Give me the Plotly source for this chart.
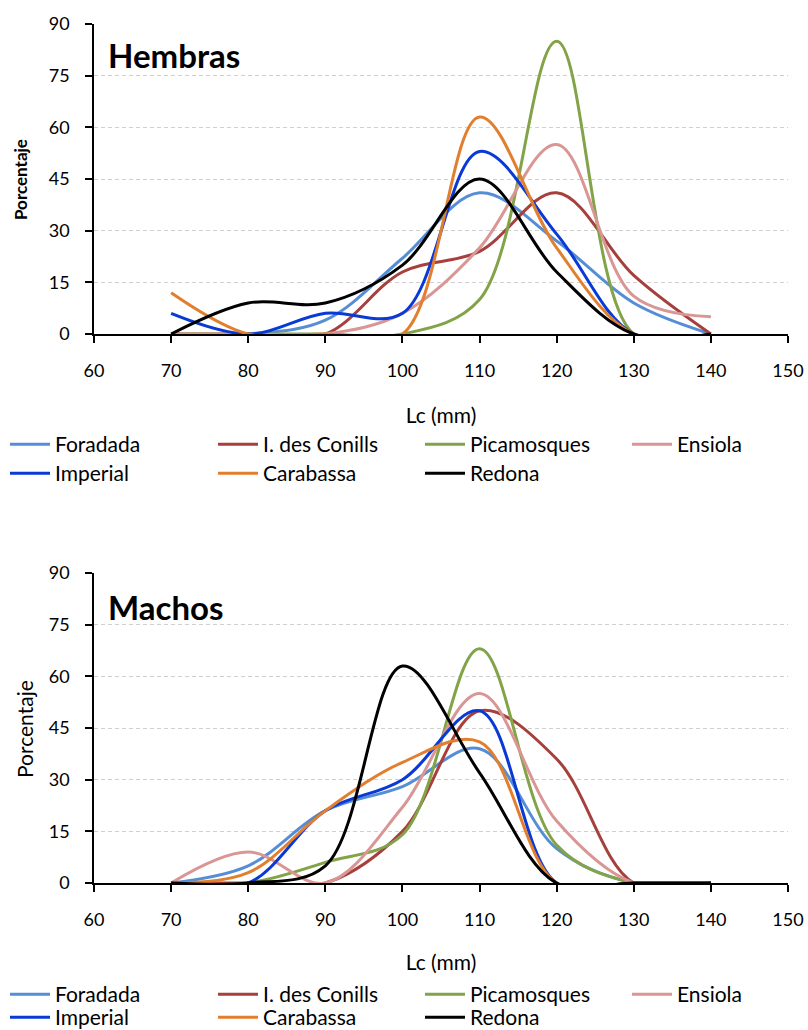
import plotly.graph_objects as go

# Carapace length classes (mm)
lc = [70, 80, 90, 100, 110, 120, 130, 140]

series_names = ["Foradada", "I. des Conills", "Picamosques", "Ensiola",
                "Imperial", "Carabassa", "Redona"]
series_colors = ["#558ED5", "#A5403D", "#82A348", "#D99694",
                 "#0A3AD6", "#E17F2F", "#000000"]

# Percentage per size class - females
hembras_foradada = [0, 0, 4, 22, 41, 27, 9, 0]
hembras_conills = [0, 0, 0, 18, 24, 41, 17, 0]
hembras_picamosques = [0, 0, 0, 0, 10, 85, 0, 0]
hembras_ensiola = [0, 0, 0, 6, 25, 55, 11, 5]
hembras_imperial = [6, 0, 6, 6, 53, 29, 0, 0]
hembras_carabassa = [12, 0, 0, 0, 63, 25, 0, 0]
hembras_redona = [0, 9, 9, 20, 45, 18, 0, 0]

# Percentage per size class - males
machos_foradada = [0, 5, 21, 28, 39, 10, 0, 0]
machos_conills = [0, 0, 0, 15, 50, 36, 0, 0]
machos_picamosques = [0, 0, 6, 14, 68, 11, 0, 0]
machos_ensiola = [0, 9, 0, 22, 55, 18, 0, 0]
machos_imperial = [0, 0, 21, 30, 50, 0, 0, 0]
machos_carabassa = [0, 3, 21, 35, 41, 0, 0, 0]
machos_redona = [0, 0, 5, 63, 32, 0, 0, 0]

hembras = [hembras_foradada, hembras_conills, hembras_picamosques, hembras_ensiola,
           hembras_imperial, hembras_carabassa, hembras_redona]
machos = [machos_foradada, machos_conills, machos_picamosques, machos_ensiola,
          machos_imperial, machos_carabassa, machos_redona]

x_ticks = [60, 70, 80, 90, 100, 110, 120, 130, 140, 150]
y_ticks = [0, 15, 30, 45, 60, 75, 90]

FONT = "Lato, 'Open Sans', sans-serif"
W, H = 808, 1030
ML, MR, MT, MB = 94, 20, 24, 147
PH = H - MT - MB


def py(pix):
    """pixel row (from top) -> paper y"""
    return (H - MB - pix) / PH


def px(pix):
    return (pix - ML) / (W - ML - MR)


# legend grid: 4 columns, 2 rows under each chart
legend_col_x = [5, 213, 420, 627]
legend_rows_top = [443, 472]
legend_rows_bottom = [993, 1016]

fig = go.Figure()
legend_layouts = {}


def legend_id(n):
    return "legend" if n == 1 else f"legend{n}"


def add_legend(n, row_center, col):
    legend_layouts[legend_id(n)] = dict(
        orientation="h", xref="container", yref="container",
        x=legend_col_x[col] / W, xanchor="left",
        y=1 - (row_center - 19) / H, yanchor="top",
        itemwidth=40,
        font=dict(family=FONT, size=21, color="#000000"),
        bgcolor="rgba(0,0,0,0)", borderwidth=0,
    )


n = 1
for data, rows, xa, ya in [(hembras, legend_rows_top, "x", "y"),
                           (machos, legend_rows_bottom, "x2", "y2")]:
    for i, name in enumerate(series_names):
        fig.add_trace(go.Scatter(
            x=lc, y=data[i], name=name, mode="lines",
            line=dict(color=series_colors[i], width=3, shape="spline", smoothing=1),
            xaxis=xa, yaxis=ya, legend=legend_id(n),
        ))
        add_legend(n, rows[i // 4], i % 4)
        n += 1

xaxis_common = dict(
    range=[60, 150], tickvals=x_ticks, showgrid=False, zeroline=False,
    showline=True, linecolor="#000000", linewidth=1.5,
    ticks="outside", ticklen=7, tickwidth=1.5, tickcolor="#000000",
    tickfont=dict(family=FONT, size=18, color="#000000"),
    ticklabelstandoff=13,
    title=dict(text="Lc (mm)", font=dict(family=FONT, size=21, color="#000000"),
               standoff=28),
)
yaxis_common = dict(
    range=[0, 90], tickvals=y_ticks, showgrid=True, gridcolor="#D0D0D0",
    griddash="4px,3px", gridwidth=1.2, zeroline=False,
    showline=True, linecolor="#000000", linewidth=1.5,
    ticks="outside", ticklen=7, tickwidth=1.5, tickcolor="#000000",
    tickfont=dict(family=FONT, size=18, color="#000000"),
    ticklabelstandoff=12,
)

fig.update_layout(
    width=W, height=H,
    margin=dict(l=ML, r=MR, t=MT, b=MB, autoexpand=False),
    paper_bgcolor="white", plot_bgcolor="white",
    showlegend=True,
    xaxis=dict(domain=[0, 1], anchor="y", **xaxis_common),
    yaxis=dict(domain=[py(334), 1], anchor="x", **yaxis_common),
    xaxis2=dict(domain=[0, 1], anchor="y2", **xaxis_common),
    yaxis2=dict(domain=[0, py(573)], anchor="x2", **yaxis_common),
    annotations=[
        dict(text="<b>Hembras</b>", xref="paper", yref="paper",
             x=px(106), y=py(55), xanchor="left", yanchor="middle",
             showarrow=False, font=dict(family=FONT, size=33, color="#000000")),
        dict(text="<b>Machos</b>", xref="paper", yref="paper",
             x=px(106), y=py(607), xanchor="left", yanchor="middle",
             showarrow=False, font=dict(family=FONT, size=33, color="#000000")),
        dict(text="<b>Porcentaje</b>", xref="paper", yref="paper",
             x=px(20), y=py(180), xanchor="center", yanchor="middle",
             textangle=-90, showarrow=False,
             font=dict(family=FONT, size=17, color="#000000")),
        dict(text="Porcentaje", xref="paper", yref="paper",
             x=px(24), y=py(729), xanchor="center", yanchor="middle",
             textangle=-90, showarrow=False,
             font=dict(family=FONT, size=21, color="#000000")),
    ],
)
fig.update_layout(**legend_layouts)

fig.write_html("out.html")
